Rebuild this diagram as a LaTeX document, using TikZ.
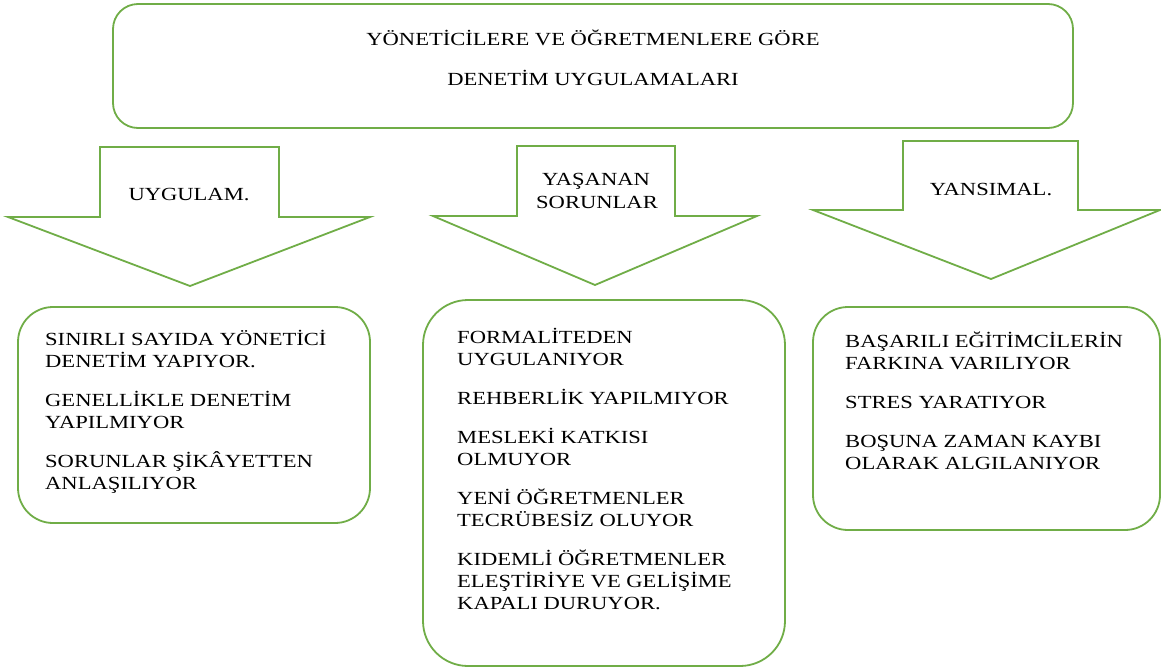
\documentclass[tikz,border=0pt]{standalone}
\usepackage{fontspec}
\setmainfont{Liberation Serif}[FakeStretch=1.22]
\definecolor{officegreen}{RGB}{112,173,71}
\begin{document}
\begin{tikzpicture}[x=1pt,y=-1pt,
  frame/.style={draw=officegreen, line width=1.8pt, fill=white},
  panel/.style={frame, inner sep=0pt},
  caption/.style={inner sep=0pt, font=\fontsize{18.5}{22}\selectfont, text=black},
  itemlist/.style={caption, anchor=base west},
]
\useasboundingbox (0,0) rectangle (1161,667);

% title box
\node[panel, rounded corners=25pt, minimum width=960pt, minimum height=124pt] (title) at (593,66) {};
\node[caption, anchor=base] (titleA) at (593,45) {YÖNETİCİLERE VE ÖĞRETMENLERE GÖRE};
\node[caption, anchor=base] (titleB) at (593,85) {DENETİM UYGULAMALARI};

% block arrows
\draw[frame] (100,147) -- (279,147) -- (279,217) -- (370,217) -- (190,286) -- (8,217) -- (100,217) -- cycle;
\draw[frame] (517,146) -- (675,146) -- (675,216) -- (757,216) -- (595,285) -- (433,216) -- (517,216) -- cycle;
\draw[frame] (903,141) -- (1078,141) -- (1078,210) -- (1160,210) -- (991,279) -- (813,210) -- (903,210) -- cycle;

\node[caption, anchor=base] (arrowA) at (189,200) {UYGULAM.};
\node[caption, anchor=base] (arrowB) at (596,185) {YAŞANAN};
\node[caption, anchor=base] (arrowBb) at (597,208) {SORUNLAR};
\node[caption, anchor=base] (arrowC) at (991,195) {YANSIMAL.};

% result boxes
\node[panel, rounded corners=35pt, minimum width=352pt, minimum height=216pt] (boxA) at (194,415) {};
\node[panel, rounded corners=45pt, minimum width=362pt, minimum height=366pt] (boxB) at (604,483) {};
\node[panel, rounded corners=35pt, minimum width=347pt, minimum height=223pt] (boxC) at (986.5,418.5) {};

\node[itemlist] (listA) at (45,345) {\parbox[t]{320pt}{\raggedright
SINIRLI SAYIDA YÖNETİCİ\\
DENETİM YAPIYOR.\\[17pt]
GENELLİKLE DENETİM\\
YAPILMIYOR\\[17pt]
SORUNLAR ŞİKÂYETTEN\\
ANLAŞILIYOR}};

\node[itemlist] (listB) at (457,343) {\parbox[t]{320pt}{\raggedright
FORMALİTEDEN\\
UYGULANIYOR\\[17pt]
REHBERLİK YAPILMIYOR\\[17pt]
MESLEKİ KATKISI\\
OLMUYOR\\[17pt]
YENİ ÖĞRETMENLER\\
TECRÜBESİZ OLUYOR\\[17pt]
KIDEMLİ ÖĞRETMENLER\\
ELEŞTİRİYE VE GELİŞİME\\
KAPALI DURUYOR.}};

\node[itemlist] (listC) at (845,347) {\parbox[t]{310pt}{\raggedright
BAŞARILI EĞİTİMCİLERİN\\
FARKINA VARILIYOR\\[17pt]
STRES YARATIYOR\\[17pt]
BOŞUNA ZAMAN KAYBI\\
OLARAK ALGILANIYOR}};
\end{tikzpicture}
\end{document}
